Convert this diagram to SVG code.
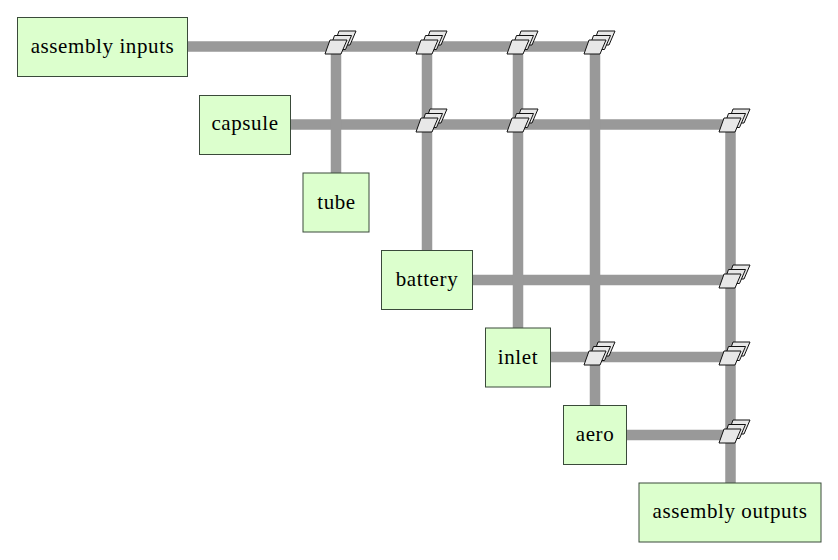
<svg xmlns="http://www.w3.org/2000/svg" width="838" height="560" viewBox="0 0 838 560">
<style>
.n{fill:#dcffcd;stroke:#3a4a3a;stroke-width:1}
.t{font-family:"Liberation Serif","DejaVu Serif",serif;font-size:21px;letter-spacing:.6px;fill:#000;text-anchor:middle}
.c{stroke:#999;stroke-width:10.500;fill:none}
.p{fill:#e8e8e8;stroke:#111;stroke-width:1}
</style>
<defs>
<g id="stack">
<path class="p" d="M-2,-1 L3,-15 L20,-15 L14,-1 Z"/>
<path class="p" d="M-6.500,3.500 L-1.500,-10.500 L15.500,-10.500 L9.500,3.500 Z"/>
<path class="p" d="M-11,8 L-6,-6 L11,-6 L5,8 Z"/>
</g>
</defs>
<g id="connectors">
<path class="c" d="M187,46.500H595"/>
<path class="c" d="M290,124.500H731"/>
<path class="c" d="M472,280H731"/>
<path class="c" d="M550,357H731"/>
<path class="c" d="M626,435H731"/>
<path class="c" d="M336,46V173"/>
<path class="c" d="M427,46V250"/>
<path class="c" d="M518,46V328"/>
<path class="c" d="M595,46V405"/>
<path class="c" d="M730.500,124V483"/>
</g>
<g id="stacks">
<use href="#stack" x="336" y="46"/>
<use href="#stack" x="427" y="46"/>
<use href="#stack" x="518" y="46"/>
<use href="#stack" x="595" y="46"/>
<use href="#stack" x="427" y="124"/>
<use href="#stack" x="518" y="124"/>
<use href="#stack" x="730" y="124"/>
<use href="#stack" x="730" y="280"/>
<use href="#stack" x="595" y="357"/>
<use href="#stack" x="730" y="357"/>
<use href="#stack" x="730" y="435"/>
</g>
<g id="assembly-inputs"><rect class="n" x="17.500" y="17.500" width="170" height="59"/><text class="t" x="102.500" y="52.500">assembly inputs</text></g>
<g id="capsule"><rect class="n" x="199.500" y="95.500" width="91" height="59"/><text class="t" x="245" y="130">capsule</text></g>
<g id="tube"><rect class="n" x="303" y="173" width="66" height="59"/><text class="t" x="336.500" y="209">tube</text></g>
<g id="battery"><rect class="n" x="381.500" y="250.500" width="91" height="59"/><text class="t" x="427" y="285.500">battery</text></g>
<g id="inlet"><rect class="n" x="485.500" y="328" width="65" height="59"/><text class="t" x="518" y="364">inlet</text></g>
<g id="aero"><rect class="n" x="563.500" y="405.500" width="63" height="59"/><text class="t" x="595" y="441">aero</text></g>
<g id="assembly-outputs"><rect class="n" x="639" y="483" width="182" height="59"/><text class="t" x="730" y="518">assembly outputs</text></g>
</svg>
